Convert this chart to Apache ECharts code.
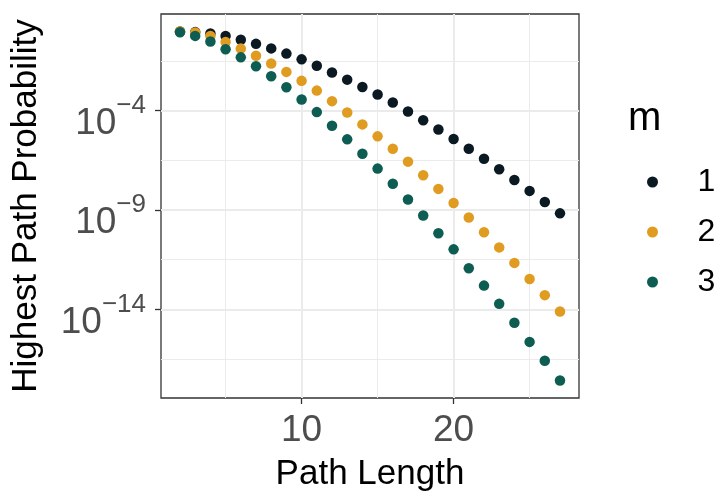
<!DOCTYPE html>
<html>
<head>
<meta charset="utf-8">
<script src="https://cdn.jsdelivr.net/npm/echarts@6/dist/echarts.min.js"></script>
<style>
  html, body { margin: 0; padding: 0; background: #fff; }
  #main { width: 722px; height: 491px; }
</style>
</head>
<body>
<div id="main"></div>
<script>
// path lengths (x)
const pathLength = [2, 3, 4, 5, 6, 7, 8, 9, 10, 11, 12, 13, 14, 15, 16, 17, 18, 19, 20, 21, 22, 23, 24, 25, 26, 27];

// highest path probability, one array per m
const probM1 = [0.933, 0.871, 0.741, 0.550, 0.363, 0.224, 0.132, 0.0724, 0.0372, 0.0178, 0.00813, 0.00355, 0.00151,
  6.31e-4, 2.51e-4, 8.91e-5, 3.24e-5, 1.12e-5, 3.72e-6, 1.20e-6, 3.72e-7, 1.12e-7, 3.24e-8, 9.12e-9, 2.51e-9, 6.76e-10];
const probM2 = [0.933, 0.832, 0.550, 0.275, 0.129, 0.0562, 0.0229, 0.00871, 0.00309, 1.0e-3, 2.95e-4, 7.94e-5, 2.0e-5,
  5.01e-6, 1.20e-6, 2.69e-7, 5.62e-8, 1.15e-8, 2.24e-9, 4.17e-10, 7.59e-11, 1.32e-11, 2.19e-12, 3.39e-13, 5.25e-14, 7.94e-15];
const probM3 = [0.851, 0.562, 0.295, 0.120, 0.0468, 0.0166, 0.00525, 1.48e-3, 3.55e-4, 8.32e-5, 1.70e-5, 3.55e-6, 6.76e-7,
  1.20e-7, 2.09e-8, 3.39e-9, 5.25e-10, 6.76e-11, 1.05e-11, 1.17e-12, 1.58e-13, 1.91e-14, 2.14e-15, 2.34e-16, 2.63e-17, 2.69e-18];

const seriesNames = ['1', '2', '3'];
const seriesColors = ['#0b1923', '#e09c20', '#0d5d53'];

// tick values
const xMajorTicks = [10, 20];
const xMinorTicks = [5, 15, 25];
const yMajorTicks = [1e-14, 1e-9, 1e-4];
const yMinorTicks = [3.1623e-17, 3.1623e-12, 3.1623e-7, 0.031623];

const FONT = '"Liberation Sans", Arial, sans-serif';
const xMin = 0.75, xMax = 28.25;
const yMin = 3.55e-19, yMax = 7.08;

const chart = echarts.init(document.getElementById('main'), null, { renderer: 'canvas' });

const allProbs = [probM1, probM2, probM3];
const series = seriesNames.map((name, k) => ({
  name: name,
  type: 'scatter',
  xAxisIndex: 0,
  yAxisIndex: 0,
  symbolSize: 10.5,
  itemStyle: { color: seriesColors[k], opacity: 1 },
  emphasis: { disabled: true },
  data: pathLength.map((x, i) => [x, allProbs[k][i]])
}));

const minus = '\u2212';

const option = {
  backgroundColor: '#fff',
  animation: false,
  textStyle: { fontFamily: FONT },
  title: {
    text: 'm',
    left: 628,
    top: 99,
    padding: 0,
    textStyle: { fontSize: 40, fontWeight: 'normal', color: '#000', fontFamily: FONT }
  },
  legend: {
    orient: 'vertical',
    left: 647,
    top: 166,
    padding: 0,
    itemWidth: 80,
    itemHeight: 11,
    itemGap: 18,
    icon: 'circle',
    selectedMode: false,
    data: seriesNames,
    textStyle: { fontSize: 32, lineHeight: 32, color: '#000', fontFamily: FONT }
  },
  grid: {
    left: 161, right: 143, top: 14, bottom: 93,
    containLabel: false,
    outerBoundsMode: 'none',
    show: true,
    borderColor: '#333333',
    borderWidth: 1.3,
    backgroundColor: '#fff'
  },
  xAxis: [
    {
      type: 'value',
      min: xMin, max: xMax,
      name: 'Path Length',
      nameLocation: 'middle',
      nameGap: 59,
      nameTextStyle: { fontSize: 35, color: '#000', fontFamily: FONT },
      axisLine: { show: false },
      axisTick: { show: true, length: 6, customValues: xMajorTicks, lineStyle: { color: '#333333', width: 1.3 } },
      axisLabel: { customValues: xMajorTicks, margin: 14, fontSize: 37, color: '#4d4d4d', fontFamily: FONT },
      splitLine: { show: true, lineStyle: { color: '#ebebeb', width: 2 } }
    },
    {
      type: 'value',
      min: xMin, max: xMax,
      position: 'bottom',
      axisLine: { show: false },
      axisTick: { show: false, customValues: xMinorTicks },
      axisLabel: { show: false, customValues: xMinorTicks },
      splitLine: { show: true, lineStyle: { color: '#ebebeb', width: 1 } }
    }
  ],
  yAxis: [
    {
      type: 'log',
      logBase: 10,
      min: yMin, max: yMax,
      name: 'Highest Path Probability',
      nameLocation: 'middle',
      nameGap: 117,
      nameTextStyle: { fontSize: 35, color: '#000', fontFamily: FONT },
      axisLine: { show: false },
      axisTick: { show: true, length: 6, customValues: yMajorTicks, lineStyle: { color: '#333333', width: 1.3 } },
      axisLabel: {
        customValues: yMajorTicks,
        margin: 15,
        hideOverlap: false,
        // superscript on its own (upper) line, "10" below followed by an invisible copy of the exponent
        formatter: function (v) {
          const e = Math.round(Math.log10(v));
          const exp = (e < 0 ? minus : '') + Math.abs(e);
          return '{s|' + exp + '}\n{b|10}{g|' + exp + '}';
        },
        rich: {
          s: { fontSize: 26, lineHeight: 26, color: '#4d4d4d', fontFamily: FONT },
          b: { fontSize: 37, lineHeight: 10, color: '#4d4d4d', fontFamily: FONT },
          g: { fontSize: 26, lineHeight: 10, color: 'rgba(0,0,0,0)', fontFamily: FONT }
        }
      },
      splitLine: { show: true, lineStyle: { color: '#ebebeb', width: 2 } }
    },
    {
      type: 'log',
      logBase: 10,
      min: yMin, max: yMax,
      axisLine: { show: false },
      axisTick: { show: false, customValues: yMinorTicks },
      axisLabel: { show: false, customValues: yMinorTicks },
      splitLine: { show: true, lineStyle: { color: '#ebebeb', width: 1 } }
    }
  ],
  series: series
};

chart.setOption(option);
</script>
</body>
</html>
